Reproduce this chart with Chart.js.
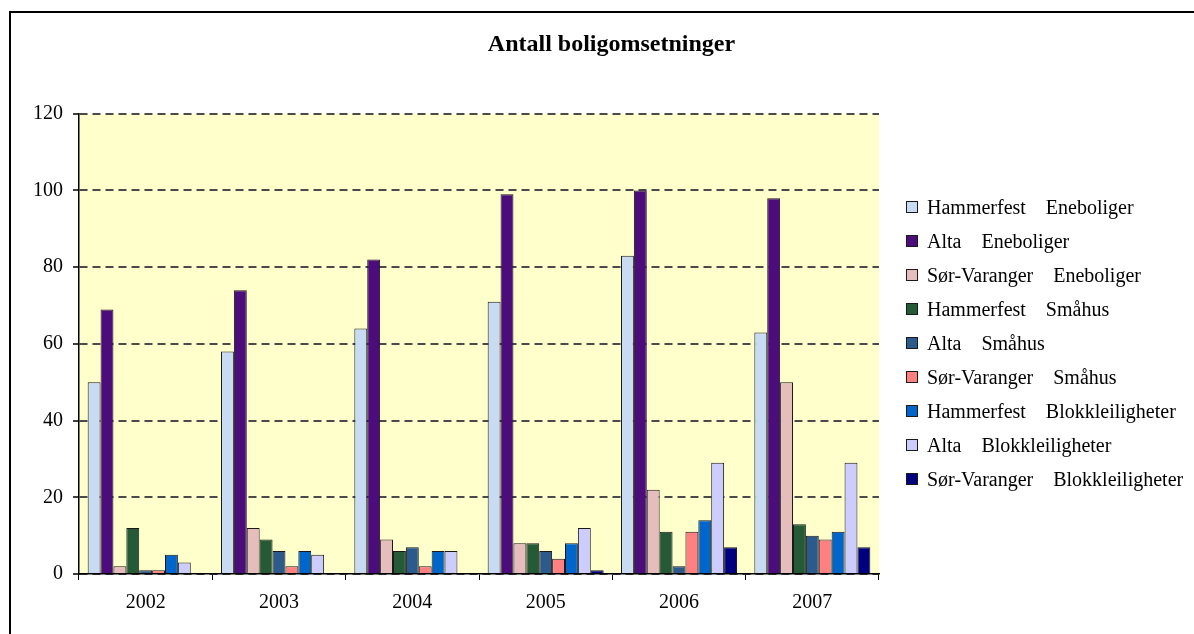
<!DOCTYPE html>
<html>
<head>
<meta charset="utf-8">
<script src="https://cdn.jsdelivr.net/npm/chart.js"></script>
<style>
  html, body { margin: 0; padding: 0; background: #fff; overflow: hidden; }
  #frame {
    position: absolute; left: 9px; top: 11px;
    width: 1201px; height: 640px;
    border: 2px solid #000;
  }
  #wrap { position: absolute; left: 0; top: 0; width: 1189px; height: 622px; }
  #legend {
    position: absolute; left: 895px; top: 177px;
    font-family: 'Liberation Serif', 'Times New Roman', serif;
    font-size: 20px; color: #000;
  }
  #legend .row { height: 34px; display: flex; align-items: center; white-space: pre; }
  #legend .box {
    width: 12px; height: 12px; box-sizing: border-box;
    border: 1px solid #1a1a1a; margin-right: 9px; flex: none;
  }
</style>
</head>
<body>
<div id="frame">
  <div id="wrap"><canvas id="chart"></canvas></div>
  <div id="legend"></div>
</div>
<script>
// år på x-aksen
const years = ["2002", "2003", "2004", "2005", "2006", "2007"];

// antall omsetninger per serie
const hammerfestEneboliger = [50, 58, 64, 71, 83, 63];
const altaEneboliger = [69, 74, 82, 99, 100, 98];
const sorVarangerEneboliger = [2, 12, 9, 8, 22, 50];
const hammerfestSmahus = [12, 9, 6, 8, 11, 13];
const altaSmahus = [1, 6, 7, 6, 2, 10];
const sorVarangerSmahus = [1, 2, 2, 4, 11, 9];
const hammerfestBlokk = [5, 6, 6, 8, 14, 11];
const altaBlokk = [3, 5, 6, 12, 29, 29];
const sorVarangerBlokk = [0, 0, 0, 1, 7, 7];

const yTicks = [0, 20, 40, 60, 80, 100, 120];

const GAP = "    ";
const series = [
  { label: "Hammerfest" + GAP + "Eneboliger", data: hammerfestEneboliger, color: "#c9daf3" },
  { label: "Alta" + GAP + "Eneboliger", data: altaEneboliger, color: "#4c0c7c" },
  { label: "Sør-Varanger" + GAP + "Eneboliger", data: sorVarangerEneboliger, color: "#e5bdbd" },
  { label: "Hammerfest" + GAP + "Småhus", data: hammerfestSmahus, color: "#245b36" },
  { label: "Alta" + GAP + "Småhus", data: altaSmahus, color: "#2c5a8a" },
  { label: "Sør-Varanger" + GAP + "Småhus", data: sorVarangerSmahus, color: "#ff8080" },
  { label: "Hammerfest" + GAP + "Blokkleiligheter", data: hammerfestBlokk, color: "#0066cc" },
  { label: "Alta" + GAP + "Blokkleiligheter", data: altaBlokk, color: "#ccccff" },
  { label: "Sør-Varanger" + GAP + "Blokkleiligheter", data: sorVarangerBlokk, color: "#000080" },
];

const serif = "'Liberation Serif', 'Times New Roman', serif";

// gul bakgrunn i plottområdet
const plotBg = {
  id: "plotBg",
  beforeDraw(chart) {
    const { ctx, chartArea: a } = chart;
    ctx.save();
    ctx.fillStyle = "#ffffcc";
    ctx.fillRect(a.left, a.top, a.right - a.left, a.bottom - a.top);
    ctx.restore();
  },
};

const chart = new Chart(document.getElementById("chart"), {
  type: "bar",
  data: {
    labels: years,
    datasets: series.map((s) => ({
      label: s.label,
      data: s.data,
      backgroundColor: s.color,
      borderColor: "#1a1a1a",
      borderWidth: 1,
      categoryPercentage: 0.87,
      barPercentage: 1,
    })),
  },
  options: {
    responsive: true,
    maintainAspectRatio: false,
    animation: false,
    layout: { padding: { left: 12, right: 0, top: 0, bottom: 9 } },
    plugins: {
      title: {
        display: true,
        text: "Antall boligomsetninger",
        color: "#000",
        font: { family: serif, size: 24, weight: "bold" },
        padding: { top: 17, bottom: 55 },
      },
      legend: { display: false },
      tooltip: { enabled: false },
    },
    scales: {
      x: {
        grid: {
          display: true,
          offset: true,
          drawOnChartArea: false,
          drawTicks: true,
          tickLength: 6,
          color: "#000",
        },
        border: { display: true, color: "#000", width: 1.5 },
        ticks: { color: "#000", font: { family: serif, size: 20 }, padding: 11 },
      },
      y: {
        min: 0,
        max: 120,
        afterBuildTicks(scale) {
          scale.ticks = yTicks.map((v) => ({ value: v }));
        },
        grid: {
          color: "#4a4a4a",
          lineWidth: 2,
          tickLength: 6,
          tickColor: "#000",
          tickWidth: 1.5,
          tickBorderDash: [],
        },
        border: { display: true, color: "#000", width: 1.5, dash: [8, 5] },
        ticks: { color: "#000", font: { family: serif, size: 20 }, padding: 10 },
      },
      // tom akse som holder plass til forklaringen til høyre
      yPad: {
        type: "linear",
        position: "right",
        display: true,
        grid: { display: false },
        border: { display: false },
        ticks: { display: false },
        afterFit(scale) {
          scale.width = 321;
        },
      },
    },
  },
  plugins: [plotBg],
});

// forklaring som HTML, bygget fra diagrammets egne etiketter
const legendEl = document.getElementById("legend");
Chart.defaults.plugins.legend.labels.generateLabels(chart).forEach((item) => {
  const row = document.createElement("div");
  row.className = "row";
  const box = document.createElement("span");
  box.className = "box";
  box.style.background = item.fillStyle;
  row.appendChild(box);
  row.appendChild(document.createTextNode(item.text));
  legendEl.appendChild(row);
});
</script>
</body>
</html>
